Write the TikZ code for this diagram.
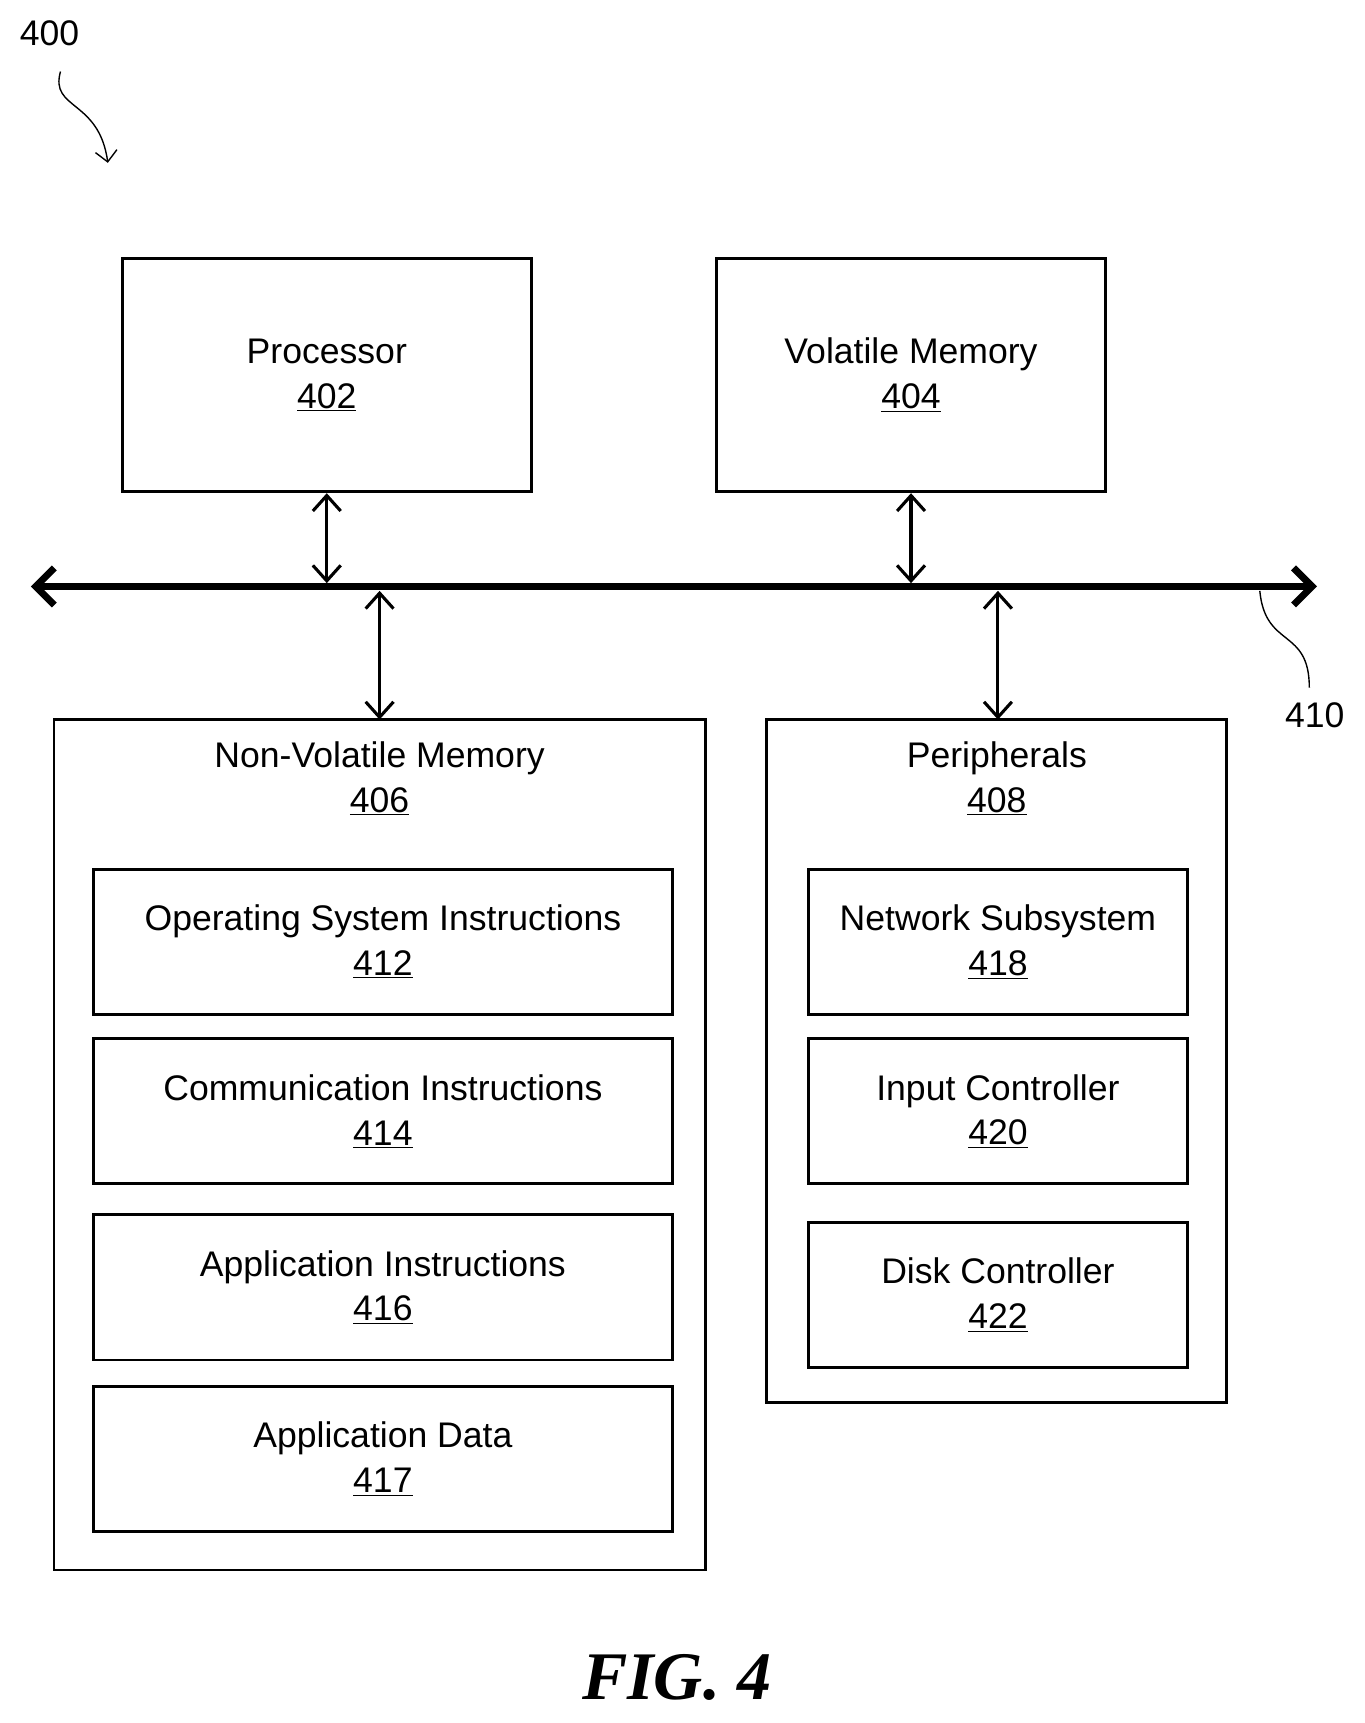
\documentclass[tikz,border=0pt]{standalone}
\usepackage{fontspec}
\setmainfont{Liberation Sans}
\newfontfamily\figfont{Liberation Serif}
\usetikzlibrary{arrows.meta}
\tikzstyle{block} = [rectangle, draw=black, line width=1.8pt, align=center, font=\fontsize{23}{29}\selectfont]
\tikzstyle{link} = [line width=2pt, {Straight Barb[length=10pt,width=18pt,line width=2pt]}-{Straight Barb[length=10pt,width=18pt,line width=2pt]}]
\tikzstyle{lead} = [line width=0.9pt]
\newcommand{\blk}[2]{#1\\\underline{#2}}

\begin{document}
\begin{tikzpicture}[x=0.025cm, y=-0.025cm]
\useasboundingbox (0,0) rectangle (1240,1566);

\node (402) [block, minimum width=372*0.025cm, minimum height=212*0.025cm] at (297,341) {\blk{Processor}{402}};
\node (404) [block, minimum width=354*0.025cm, minimum height=212*0.025cm] at (828,341) {\blk{Volatile Memory}{404}};

\coordinate (busl) at (28,533);
\coordinate (busr) at (1197,533);
\draw [line width=4.5pt, {Straight Barb[length=12pt,width=24pt]}-{Straight Barb[length=12pt,width=24pt]}] (busl) -- (busr);

\draw [block] (49,654) rectangle (641,1427);
\node (406) [block, draw=none, anchor=north] at (345,668) {\blk{Non-Volatile Memory}{406}};
\draw [block] (697,654) rectangle (1115,1275);
\node (408) [block, draw=none, anchor=north] at (906,668) {\blk{Peripherals}{408}};

\node (412) [block, minimum width=526*0.025cm, minimum height=132*0.025cm] at (348,856) {\blk{Operating System Instructions}{412}};
\node (414) [block, minimum width=526*0.025cm, minimum height=132*0.025cm] at (348,1010) {\blk{Communication Instructions}{414}};
\node (416) [block, minimum width=526*0.025cm, minimum height=132*0.025cm] at (348,1170) {\blk{Application Instructions}{416}};
\node (417) [block, minimum width=526*0.025cm, minimum height=132*0.025cm] at (348,1326) {\blk{Application Data}{417}};

\node (418) [block, minimum width=345*0.025cm, minimum height=132*0.025cm] at (907,856) {\blk{Network Subsystem}{418}};
\node (420) [block, minimum width=345*0.025cm, minimum height=132*0.025cm] at (907,1010) {\blk{Input Controller}{420}};
\node (422) [block, minimum width=345*0.025cm, minimum height=132*0.025cm] at (907,1177) {\blk{Disk Controller}{422}};

\coordinate (b1) at (297,530);
\coordinate (b2) at (828,530);
\coordinate (b3) at (345,537);
\coordinate (b4) at (907,537);
\coordinate (t3) at (345,654);
\coordinate (t4) at (907,654);
\draw [link] (402) -- (b1);
\draw [link] (404) -- (b2);
\draw [link] (b3) -- (t3);
\draw [link] (b4) -- (t4);

% reference labels
\node (400) [font=\fontsize{23}{27}\selectfont] at (45,30) {400};
\coordinate (s400) at (55,65);
\coordinate (e400) at (98,148);
\draw [lead, -{Straight Barb[length=7pt,width=14pt]}] (s400) .. controls (45,100) and (90,90) .. (e400);
\node (410) [font=\fontsize{23}{27}\selectfont] at (1195,650) {410};
\coordinate (s410) at (1145,537);
\coordinate (e410) at (1190,625);
\draw [lead] (s410) .. controls (1150,590) and (1190,570) .. (e410);

\node (fig) [font=\figfont\bfseries\itshape\fontsize{44}{50}\selectfont] at (615,1525) {FIG. 4};
\end{tikzpicture}
\end{document}
